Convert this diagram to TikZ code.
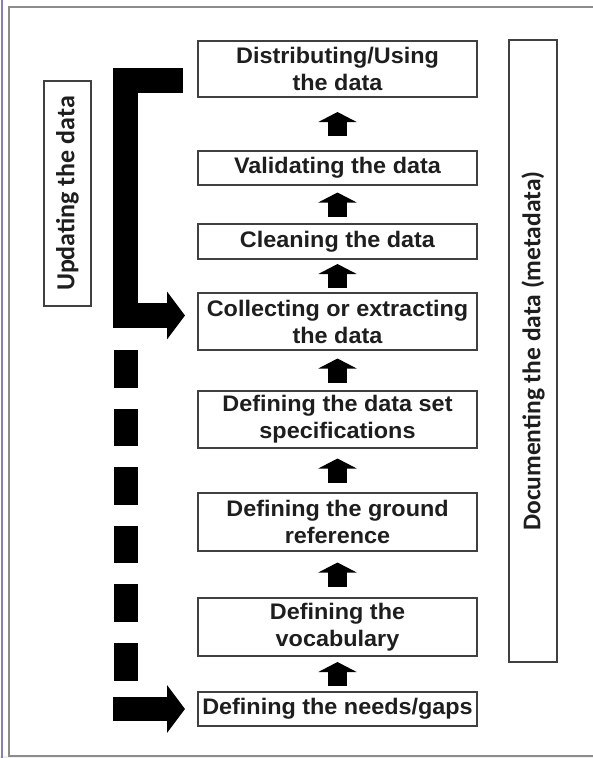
\documentclass[tikz,border=0pt]{standalone}
\usepackage{fontspec}
\setmainfont{Liberation Sans}
\newfontfamily\boxfont{Liberation Sans}[FakeStretch=1.04]
\newfontfamily\sidefont{Carlito}
\usetikzlibrary{arrows.meta,calc}
\definecolor{boxline}{HTML}{404040}
\definecolor{framegrey}{HTML}{8C8C8C}
\definecolor{framepurple}{HTML}{8A80B0}
\definecolor{txt}{HTML}{1E1E1E}
\begin{document}
\begin{tikzpicture}[x=1pt,y=-1pt,
  stepbox/.style={draw=boxline, line width=2pt, inner sep=0pt, minimum width=279pt,
    align=center, text=txt, font=\boxfont\bfseries\fontsize{22.5}{27}\selectfont},
  sidebox/.style={draw=boxline, line width=2pt, inner sep=0pt},
  sidetext/.style={rotate=90, text=txt, inner sep=0pt, font=\sidefont\bfseries\fontsize{25.5}{30}\selectfont},
  uparrow/.style={line width=19pt, -{Triangle[width=38pt,length=10pt]}},
  bigarrow/.style={line width=25pt, line join=miter, -{Triangle[width=47pt,length=18pt]}},
  dashbar/.style={line width=24pt, dash pattern=on 37.6pt off 21pt}
  ]
\useasboundingbox (0,0) rectangle (593,758);
\clip (0,0) rectangle (593,758);
\fill[white] (0,0) rectangle (593,758);
\fill[black!6] (0,756) rectangle (593,758);
\draw[framepurple, line width=1.5pt] (2,0) -- (2,758);
\draw[framegrey, line width=2.5pt] (602,7) -- (9,7) -- (9,756) -- (602,756);

% process boxes
\node[stepbox, minimum height=56pt] (dist)    at (337.5,69)    {Distributing/Using\\the data};
\node[stepbox, minimum height=34pt] (valid)   at (337.5,168)   {Validating the data};
\node[stepbox, minimum height=35pt] (clean)   at (337.5,241.5) {Cleaning the data};
\node[stepbox, minimum height=57pt] (collect) at (337.5,321.5) {Collecting or extracting\\the data};
\node[stepbox, minimum height=57pt] (spec)    at (337.5,419.5) {Defining the data set\\specifications};
\node[stepbox, minimum height=58pt] (ground)  at (337.5,522)   {Defining the ground\\reference};
\node[stepbox, minimum height=58pt] (vocab)   at (337.5,627)   {Defining the\\vocabulary};
\node[stepbox, minimum height=34pt] (needs)   at (337.5,709)   {Defining the needs/gaps};

% side boxes
\node[sidebox, minimum width=48pt, minimum height=622pt] (doc) at (533,351) {};
\node[sidetext] (doctext) at (doc.center) {Documenting the data (metadata)};
\node[sidebox, minimum width=47pt, minimum height=225pt] (upd) at (67.5,193.5) {};
\node[sidetext, font=\sidefont\bfseries\fontsize{26}{30}\selectfont] (updtext) at (upd.center) {Updating the data};

% small upward arrows
\foreach \lo/\hi in {valid/dist, clean/valid, collect/clean, spec/collect,
                     ground/spec, vocab/ground, needs/vocab}
  \draw[uparrow] ($(\lo.north)!.5!(\hi.south)+(0,12)$) -- ($(\lo.north)!.5!(\hi.south)+(0,-12)$);

% updating loop arrow
\draw[bigarrow, shorten <=14pt, shorten >=12pt]
  ([yshift=-11.5pt]dist.west) -- ++(-72,0) |- ([yshift=6pt]collect.west);

% dashed bar and bottom arrow
\coordinate (dtop) at (125.5,350);
\coordinate (dbot) at (125.5,681);
\draw[dashbar] (dtop) -- (dbot);
\coordinate (hstart) at (113,709);
\draw[bigarrow, line width=24pt, shorten >=12pt] (hstart) -- (needs.west);
\end{tikzpicture}
\end{document}
